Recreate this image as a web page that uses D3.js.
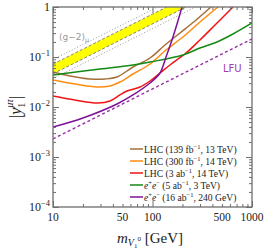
<!DOCTYPE html>
<html>
<head>
<meta charset="utf-8">
<script src="https://cdn.jsdelivr.net/npm/d3@7"></script>
<style>
  body { margin: 0; background: #fff; }
  svg { display: block; font-family: "Liberation Serif", serif; }
</style>
</head>
<body>
<svg id="chart" width="266" height="252"></svg>
<script>
// masses in GeV, couplings |y|
var brownMass = [10, 14.8, 23.6, 33.3, 44.0, 63.7, 94.4, 133.6, 189, 267, 387]
var brownY    = [0.0501, 0.0417, 0.0363, 0.0363, 0.0398, 0.0631, 0.0955, 0.174, 0.302, 0.525, 1.0]

var orangeMass = [10, 16.6, 27.7, 37.4, 47.1, 63.7, 94.4, 136.7, 202.5, 300, 455]
var orangeY    = [0.0347, 0.0288, 0.0251, 0.0263, 0.0316, 0.0457, 0.0724, 0.138, 0.251, 0.501, 1.0]

var redMass = [10, 16.6, 28.3, 37.4, 47.1, 55.4, 74.9, 94.4, 119, 149.9, 217, 300, 425, 644]
var redY    = [0.0166, 0.0138, 0.0120, 0.0132, 0.0174, 0.0209, 0.0251, 0.0331, 0.0479, 0.0692, 0.120, 0.219, 0.437, 1.0]

var greenMass = [10, 29.7, 63.7, 94.4, 202.5, 300, 444.8, 644, 1000]
var greenY    = [0.0437, 0.0575, 0.0692, 0.0794, 0.110, 0.151, 0.200, 0.288, 0.479]

var purpleMass = [10, 20.0, 44.0, 63.7, 94.4, 119, 136.7, 157, 176.3, 197.9]
var purpleY    = [0.00398, 0.00603, 0.0115, 0.0174, 0.0302, 0.0479, 0.1, 0.219, 0.457, 1.0]

var lfuMass = [10, 1000]
var lfuY    = [0.0023, 0.23]

var gm2Mass    = [10, 1000]
var gm2Lo      = [0.046, 4.6]
var gm2Hi      = [0.072, 7.2]
var gm2OuterLo = [0.037, 3.7]
var gm2OuterHi = [0.089, 8.9]

var xMajor = [10, 100, 1000]
var xLabels = [10, 50, 100, 500, 1000]
var yMajor = [1e-4, 1e-3, 1e-2, 1e-1, 1]
var yLabels = [["10", "\u22124"], ["10", "\u22123"], ["10", "\u22122"], ["10", "\u22121"], ["1", ""]]

var legendItems = [
  {color: "#a5703c", parts: [["LHC (139 fb"], ["\u22121", "sup"], [", 13 TeV)"]]},
  {color: "#ff8c10", parts: [["LHC (300 fb"], ["\u22121", "sup"], [", 14 TeV)"]]},
  {color: "#f01414", parts: [["LHC (3 ab"], ["\u22121", "sup"], [", 14 TeV)"]]},
  {color: "#138a13", parts: [["e", "it"], ["+", "sup"], ["e", "it"], ["\u2212", "sup"], [" (5 ab"], ["\u22121", "sup"], [", 3 TeV)"]]},
  {color: "#80109a", parts: [["e", "it"], ["+", "sup"], ["e", "it"], ["\u2212", "sup"], [" (16 ab"], ["\u22121", "sup"], [", 240 GeV)"]]}
]

var svg = d3.select("#chart")
var x = d3.scaleLog().domain([10, 1000]).range([53, 252])
var y = d3.scaleLog().domain([1e-4, 1]).range([207, 7])

svg.append("clipPath").attr("id", "clip")
  .append("rect").attr("x", 53).attr("y", 7).attr("width", 199).attr("height", 200)

var plot = svg.append("g").attr("clip-path", "url(#clip)")

function pts(ms, ys) { return ms.map(function(m, i) { return [m, ys[i]] }) }

var line = d3.line()
  .x(function(d) { return x(d[0]) })
  .y(function(d) { return y(d[1]) })
  .curve(d3.curveCatmullRom.alpha(0.5))

// g-2 band
var band = d3.area()
  .x(function(d) { return x(d[0]) })
  .y0(function(d) { return y(d[1]) })
  .y1(function(d) { return y(d[2]) })
plot.append("path")
  .datum(gm2Mass.map(function(m, i) { return [m, gm2Lo[i], gm2Hi[i]] }))
  .attr("d", band).attr("fill", "#ffff00")
;[gm2Lo, gm2Hi].forEach(function(arr) {
  plot.append("path").datum(pts(gm2Mass, arr)).attr("d", line)
    .attr("fill", "none").attr("stroke", "#666").attr("stroke-width", 0.8)
    .attr("stroke-dasharray", "3,2")
})
;[gm2OuterLo, gm2OuterHi].forEach(function(arr) {
  plot.append("path").datum(pts(gm2Mass, arr)).attr("d", line)
    .attr("fill", "none").attr("stroke", "#999").attr("stroke-width", 1)
    .attr("stroke-dasharray", "1,2")
})

// LFU
plot.append("path").datum(pts(lfuMass, lfuY)).attr("d", line)
  .attr("fill", "none").attr("stroke", "#9a2ca8").attr("stroke-width", 1.4)
  .attr("stroke-dasharray", "3,2.5")

var curves = [
  [brownMass, brownY, legendItems[0].color],
  [orangeMass, orangeY, legendItems[1].color],
  [redMass, redY, legendItems[2].color],
  [greenMass, greenY, legendItems[3].color],
  [purpleMass, purpleY, legendItems[4].color]
]
curves.forEach(function(c) {
  plot.append("path").datum(pts(c[0], c[1])).attr("d", line)
    .attr("fill", "none").attr("stroke", c[2]).attr("stroke-width", 1.5)
})

// frame + ticks
var frameColor = "#6e6e6e"
function minors(lo, hi) {
  var out = []
  for (var e = lo; e < hi; e++) for (var k = 2; k < 10; k++) out.push(k * Math.pow(10, e))
  return out
}
var xMinor = minors(1, 3), yMinor = minors(-4, 0)

function tickAxis(axis, scale, vals, size, transform) {
  var g = svg.append("g").attr("transform", transform)
    .call(axis(scale).tickValues(vals).tickSize(size).tickFormat(""))
  g.select(".domain").remove()
  g.selectAll("line").attr("stroke", frameColor)
}
tickAxis(d3.axisBottom, x, xMinor, -3, "translate(0,207)")
tickAxis(d3.axisBottom, x, xMajor, -6, "translate(0,207)")
tickAxis(d3.axisTop, x, xMinor, -3, "translate(0,7)")
tickAxis(d3.axisTop, x, xMajor, -6, "translate(0,7)")
tickAxis(d3.axisLeft, y, yMinor, -3, "translate(53,0)")
tickAxis(d3.axisLeft, y, yMajor, -6, "translate(53,0)")
tickAxis(d3.axisRight, y, yMinor, -3, "translate(252,0)")
tickAxis(d3.axisRight, y, yMajor, -6, "translate(252,0)")

svg.append("rect").attr("x", 53).attr("y", 7).attr("width", 199).attr("height", 200)
  .attr("fill", "none").attr("stroke", frameColor).attr("stroke-width", 1.3)

// tick labels
svg.selectAll(".xl").data(xLabels).enter().append("text")
  .attr("x", function(d) { return x(d) }).attr("y", 221)
  .attr("text-anchor", "middle").attr("font-size", 11.5).attr("fill", "#222")
  .text(function(d) { return d })

yMajor.forEach(function(v, i) {
  var t = svg.append("text").attr("x", 50).attr("y", y(v) + 4)
    .attr("text-anchor", "end").attr("font-size", 12).attr("fill", "#222")
  t.append("tspan").text(yLabels[i][0])
  if (yLabels[i][1]) t.append("tspan").attr("dy", -5).attr("font-size", 8.5).text(yLabels[i][1])
})

// axis titles
var xt = svg.append("text").attr("x", 150).attr("y", 243).attr("text-anchor", "middle")
  .attr("font-size", 15).attr("fill", "#222")
xt.append("tspan").attr("font-style", "italic").text("m")
xt.append("tspan").attr("dy", 3).attr("font-size", 10).attr("font-style", "italic").text("V")
xt.append("tspan").attr("dy", 2).attr("font-size", 7).text("1")
xt.append("tspan").attr("dy", -7).attr("font-size", 7).text("0")
xt.append("tspan").attr("dy", 2).text(" [GeV]")

var yt = svg.append("text").attr("transform", "translate(21,107) rotate(-90)")
  .attr("text-anchor", "middle").attr("font-size", 16).attr("fill", "#222")
yt.append("tspan").text("|")
yt.append("tspan").attr("font-style", "italic").text("y")
yt.append("tspan").attr("dy", 4).attr("font-size", 10).text("1")
yt.append("tspan").attr("dy", -12).attr("dx", -5).attr("font-size", 10).attr("font-style", "italic").text("\u03bc\u03c4")
yt.append("tspan").attr("dy", 8).text("|")

// annotations
var gt = svg.append("text").attr("x", 59).attr("y", 40).attr("font-family", "DejaVu Sans, sans-serif")
  .attr("font-size", 9).attr("fill", "#999")
gt.append("tspan").text("(g\u22122)")
gt.append("tspan").attr("dy", 2).attr("font-size", 6.5).text("\u03bc")

svg.append("text").attr("x", 223).attr("y", 72).attr("font-family", "DejaVu Sans, sans-serif")
  .attr("font-size", 10).attr("fill", "#a040b0").text("LFU")

// legend
legendItems.forEach(function(item, i) {
  var ly = 149 + i * 12
  svg.append("line").attr("x1", 130).attr("x2", 143).attr("y1", ly).attr("y2", ly)
    .attr("stroke", item.color).attr("stroke-width", 1.5)
  var t = svg.append("text").attr("x", 144).attr("y", ly + 3.5).attr("font-size", 9.6).attr("fill", "#222")
  var shifted = false
  item.parts.forEach(function(p) {
    var s = t.append("tspan").text(p[0])
    if (p[1] === "sup") { s.attr("dy", -4).attr("font-size", 6.5); shifted = true }
    else {
      if (shifted) { s.attr("dy", 4); shifted = false }
      if (p[1] === "it") s.attr("font-style", "italic")
    }
  })
})
</script>
</body>
</html>
